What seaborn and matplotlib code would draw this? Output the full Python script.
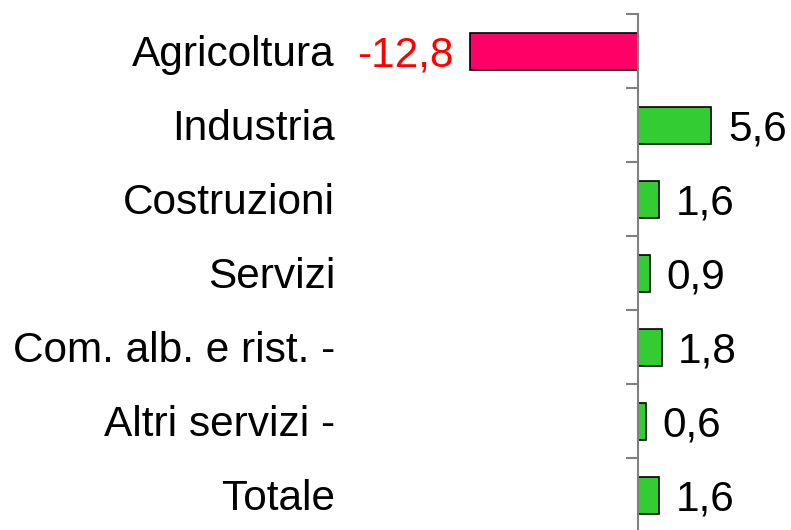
import pandas as pd
import numpy as np
import matplotlib.pyplot as plt
import matplotlib.transforms as mtransforms
import seaborn as sns

# Dati
settori = ['Agricoltura', 'Industria', 'Costruzioni', 'Servizi',
           'Com. alb. e rist. -', 'Altri servizi -', 'Totale']
variazioni = [-12.8, 5.6, 1.6, 0.9, 1.8, 0.6, 1.6]

df = pd.DataFrame({'settore': settori, 'valore': variazioni})
df['segno'] = np.where(df['valore'] < 0, 'neg', 'pos')

sns.set_style('white')
plt.rcParams['font.family'] = ['Liberation Sans', 'DejaVu Sans']

fig = plt.figure(figsize=(7.91, 5.30), dpi=100)
W, H = 791, 530
# asse zero a x=638 px, 13.1 px per unità
x0, scala = 638, 13.1
left_px, right_px = 460, 791
ax = fig.add_axes([left_px / W, -2 / H, (right_px - left_px) / W, 518 / H])

sns.barplot(data=df, y='settore', x='valore', hue='segno',
            palette={'neg': '#FF0066', 'pos': '#33CC33'}, saturation=1,
            orient='h', width=0.5, dodge=False, legend=False,
            edgecolor='black', linewidth=1.2, ax=ax)

ax.set_xlim(-(x0 - left_px) / scala, (right_px - x0) / scala)
ax.set_ylim(len(settori) - 0.5, -0.5)

# asse verticale sullo zero, tacche tra le categorie
for s in ['top', 'right', 'bottom']:
    ax.spines[s].set_visible(False)
ax.spines['left'].set_position(('data', 0))
ax.spines['left'].set_color('#808080')
ax.spines['left'].set_linewidth(1.5)
ax.set_yticks(np.arange(len(settori) + 1) - 0.5)
ax.set_yticklabels([])
ax.tick_params(axis='y', direction='out', length=9, width=1.5, color='#808080', left=True)
ax.set_xticks([])
ax.set_xlabel('')
ax.set_ylabel('')

fs = 30.5
giu = -0.716 * fs / 2  # baseline sotto il centro della riga

# etichette delle categorie
trans = mtransforms.blended_transform_factory(fig.transFigure, ax.transData)
for i, nome in enumerate(settori):
    ax.annotate(nome, (335 / W, i), xycoords=trans, xytext=(0, giu),
                textcoords='offset points', ha='right', va='baseline',
                fontsize=fs, color='black', annotation_clip=False)

# etichette dei valori
for i, v in enumerate(variazioni):
    testo = f'{v:.1f}'.replace('.', ',')
    if v < 0:
        ax.annotate(testo, (v, i), xytext=(-12, giu), textcoords='offset points',
                    ha='right', va='baseline', fontsize=fs, color='#FF0000',
                    annotation_clip=False)
    else:
        ax.annotate(testo, (v, i), xytext=(12, giu), textcoords='offset points',
                    ha='left', va='baseline', fontsize=fs, color='black',
                    annotation_clip=False)

fig.savefig('out.png', dpi=100)
